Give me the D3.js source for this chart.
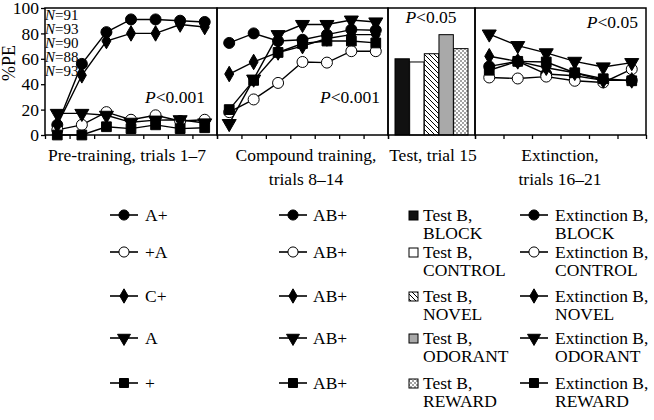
<!DOCTYPE html>
<html>
<head>
<meta charset="utf-8">
<script src="https://cdn.jsdelivr.net/npm/d3@7"></script>
<style>
  body { margin: 0; background: #fff; }
  svg text { font-family: "Liberation Serif", "Times New Roman", serif; fill: #000; }
</style>
</head>
<body>
<div id="chart"></div>
<script>
// trials per phase
var preTrials = [1, 2, 3, 4, 5, 6, 7];
var compoundTrials = [8, 9, 10, 11, 12, 13, 14];
var testTrials = [15];
var extTrials = [16, 17, 18, 19, 20, 21];

var groups = ["BLOCK", "CONTROL", "NOVEL", "ODORANT", "REWARD"];
var preLabels = ["A+", "+A", "C+", "A", "+"];
var compoundLabels = ["AB+", "AB+", "AB+", "AB+", "AB+"];
var groupN = [91, 93, 90, 88, 93];
var yTicks = [0, 20, 40, 60, 80, 100];

// %PE, pre-training (one array per group)
var preBlock = [8, 56, 81, 91, 91, 90, 89];
var preControl = [4, 8, 18, 12, 15.5, 11, 12];
var preNovel = [8, 47, 74, 80, 80, 87, 85];
var preOdorant = [17, 17, 15.5, 10, 11.7, 12, 9.5];
var preReward = [0, 0, 6.5, 5, 8, 5, 5.7];

// compound training
var cmpBlock = [72.5, 80, 74, 75, 79, 83, 82.5];
var cmpControl = [18, 28, 41, 57.5, 57, 66, 66];
var cmpNovel = [48, 57.5, 65, 70, 76, 79, 79];
var cmpOdorant = [9, 44, 79, 87, 87, 90.5, 89];
var cmpReward = [20, 43, 65, 72, 74, 74, 72.5];

// test, trial 15
var testValues = [60, 57.5, 64, 79, 68];

// extinction
var extBlock = [54, 58, 48, 46.6, 43, 43];
var extControl = [45.3, 44.5, 46, 42.7, 41.4, 51.8];
var extNovel = [62, 58, 53, 49, 43, 43];
var extOdorant = [79.5, 70.4, 64.7, 58, 53.6, 57];
var extReward = [51, 58, 57.5, 49, 44.3, 42.7];

var preSeries = [preBlock, preControl, preNovel, preOdorant, preReward];
var cmpSeries = [cmpBlock, cmpControl, cmpNovel, cmpOdorant, cmpReward];
var extSeries = [extBlock, extControl, extNovel, extOdorant, extReward];

var width = 654, height = 420;
var plotTop = 8, plotBottom = 135;
var fs = "17.5px";

var svg = d3.select("#chart").append("svg")
  .attr("width", width).attr("height", height);

var defs = svg.append("defs");
var hatch = defs.append("pattern").attr("id", "hatch")
  .attr("patternUnits", "userSpaceOnUse").attr("width", 5).attr("height", 5);
hatch.append("rect").attr("width", 5).attr("height", 5).attr("fill", "#fff");
hatch.append("path").attr("d", "M-1,-1 L6,6 M-1,4 L1,6 M4,-1 L6,1")
  .attr("stroke", "#000").attr("stroke-width", 1);
var dots = defs.append("pattern").attr("id", "dots")
  .attr("patternUnits", "userSpaceOnUse").attr("width", 4).attr("height", 4);
dots.append("rect").attr("width", 4).attr("height", 4).attr("fill", "#fff");
dots.append("circle").attr("cx", 1).attr("cy", 1).attr("r", 0.7).attr("fill", "#000");
dots.append("circle").attr("cx", 3).attr("cy", 3).attr("r", 0.7).attr("fill", "#000");

var barFill = ["#111", "#fff", "url(#hatch)", "#a9a9a9", "url(#dots)"];

// marker style per group
var markers = [
  { type: d3.symbolCircle, size: 95, fill: "#000", rot: 0 },
  { type: d3.symbolCircle, size: 95, fill: "#fff", rot: 0 },
  { type: d3.symbolDiamond, size: 70, fill: "#000", rot: 0 },
  { type: d3.symbolTriangle, size: 85, fill: "#000", rot: 180 },
  { type: d3.symbolSquare, size: 95, fill: "#000", rot: 0 }
];

var y = d3.scaleLinear().domain([0, 100]).range([plotBottom, plotTop]);

var panels = [
  { trials: preTrials, x0: 45, x1: 217, series: preSeries },
  { trials: compoundTrials, x0: 217, x1: 388, series: cmpSeries },
  { trials: testTrials, x0: 388, x1: 475, bars: testValues },
  { trials: extTrials, x0: 475, x1: 646, series: extSeries }
];

function drawMarker(g, m, cx, cy, scale) {
  g.append("path")
    .attr("d", d3.symbol().type(m.type).size(m.size * (scale || 1))())
    .attr("transform", "translate(" + cx + "," + cy + ") rotate(" + m.rot + ")")
    .attr("fill", m.fill)
    .attr("stroke", "#000").attr("stroke-width", 1);
}

panels.forEach(function (p) {
  var n = p.trials.length;
  var x = d3.scaleLinear()
    .domain([p.trials[0] - 0.5, p.trials[n - 1] + 0.5])
    .range([p.x0, p.x1]);
  var g = svg.append("g");

  if (p.series) {
    var line = d3.line()
      .x(function (d, i) { return x(p.trials[i]); })
      .y(function (d) { return y(d); });
    p.series.forEach(function (s) {
      g.append("path").datum(s)
        .attr("d", line)
        .attr("fill", "none").attr("stroke", "#000").attr("stroke-width", 1.4);
    });
    p.series.forEach(function (s, si) {
      s.forEach(function (v, i) {
        drawMarker(g, markers[si], x(p.trials[i]), y(v));
      });
    });
  }

  if (p.bars) {
    var xb = d3.scaleBand().domain(groups)
      .range([p.x0 + 7, p.x1 - 7]).paddingInner(0.02);
    g.selectAll("rect.bar").data(p.bars).enter().append("rect")
      .attr("class", "bar")
      .attr("x", function (d, i) { return xb(groups[i]); })
      .attr("width", xb.bandwidth())
      .attr("y", function (d) { return y(d); })
      .attr("height", function (d) { return y(0) - y(d); })
      .attr("fill", function (d, i) { return barFill[i]; })
      .attr("stroke", "#000").attr("stroke-width", 1);
  }

  // frame
  g.append("rect")
    .attr("x", p.x0).attr("y", plotTop)
    .attr("width", p.x1 - p.x0).attr("height", plotBottom - plotTop)
    .attr("fill", "none").attr("stroke", "#000").attr("stroke-width", 1.5);

  // bottom ticks at trial boundaries
  var tv = d3.range(p.trials[0] - 0.5, p.trials[n - 1] + 1, 1);
  var ax = svg.append("g")
    .attr("transform", "translate(0," + plotBottom + ")")
    .call(d3.axisBottom(x).tickValues(tv).tickSize(4).tickFormat(""));
  ax.select(".domain").remove();
  ax.selectAll("line").attr("stroke-width", 1.3);
});

// y axis
var yAxis = svg.append("g")
  .attr("transform", "translate(45,0)")
  .call(d3.axisLeft(y).tickValues(yTicks).tickSize(4).tickPadding(2));
yAxis.select(".domain").remove();
yAxis.selectAll("line").attr("stroke-width", 1.3);
yAxis.selectAll("text")
  .style("font-family", "Liberation Serif, serif")
  .style("font-size", fs);

svg.append("text")
  .attr("transform", "translate(15,63) rotate(-90)")
  .attr("text-anchor", "middle")
  .style("font-size", "18px")
  .text("%PE");

// N per group
svg.selectAll("text.nlab").data(groupN).enter().append("text")
  .attr("class", "nlab")
  .attr("x", 45).attr("y", function (d, i) { return 20 + i * 14; })
  .style("font-size", "15px")
  .html(function (d) { return "<tspan font-style='italic'>N</tspan>=" + d; });

// P values
function pText(x, yy, val, anchor) {
  svg.append("text").attr("x", x).attr("y", yy)
    .attr("text-anchor", anchor)
    .style("font-size", fs)
    .html("<tspan font-style='italic'>P</tspan>&lt;" + val);
}
pText(205, 103, "0.001", "end");
pText(380, 103, "0.001", "end");
pText(431, 23, "0.05", "middle");
pText(638, 28, "0.05", "end");

// phase labels
var phaseLabels = [
  { x: 127, lines: ["Pre-training, trials 1–7"] },
  { x: 306, lines: ["Compound training,", "trials 8–14"] },
  { x: 433, lines: ["Test, trial 15"] },
  { x: 560, lines: ["Extinction,", "trials 16–21"] }
];
phaseLabels.forEach(function (l) {
  l.lines.forEach(function (t, i) {
    svg.append("text").attr("x", l.x).attr("y", 161 + i * 24)
      .attr("text-anchor", "middle").style("font-size", fs).text(t);
  });
});

// legend
var rowY = [215, 252, 296, 338, 383];
function lineKey(x, yy, m) {
  svg.append("line").attr("x1", x).attr("x2", x + 28)
    .attr("y1", yy).attr("y2", yy)
    .attr("stroke", "#000").attr("stroke-width", 1.6);
  drawMarker(svg, m, x + 14, yy, 0.85);
}
groups.forEach(function (gname, i) {
  var yy = rowY[i];
  lineKey(110, yy, markers[i]);
  svg.append("text").attr("x", 145).attr("y", yy + 6).style("font-size", fs).text(preLabels[i]);
  lineKey(279, yy, markers[i]);
  svg.append("text").attr("x", 313).attr("y", yy + 6).style("font-size", fs).text(compoundLabels[i]);

  svg.append("rect").attr("x", 409).attr("y", yy - 4).attr("width", 9).attr("height", 9)
    .attr("fill", barFill[i]).attr("stroke", "#000").attr("stroke-width", 1);
  svg.append("text").attr("x", 423).attr("y", yy + 6).style("font-size", fs).text("Test B,");
  svg.append("text").attr("x", 423).attr("y", yy + 24).style("font-size", fs).text(gname);

  lineKey(520, yy, markers[i]);
  svg.append("text").attr("x", 555).attr("y", yy + 6).style("font-size", fs).text("Extinction B,");
  svg.append("text").attr("x", 555).attr("y", yy + 24).style("font-size", fs).text(gname);
});
</script>
</body>
</html>
